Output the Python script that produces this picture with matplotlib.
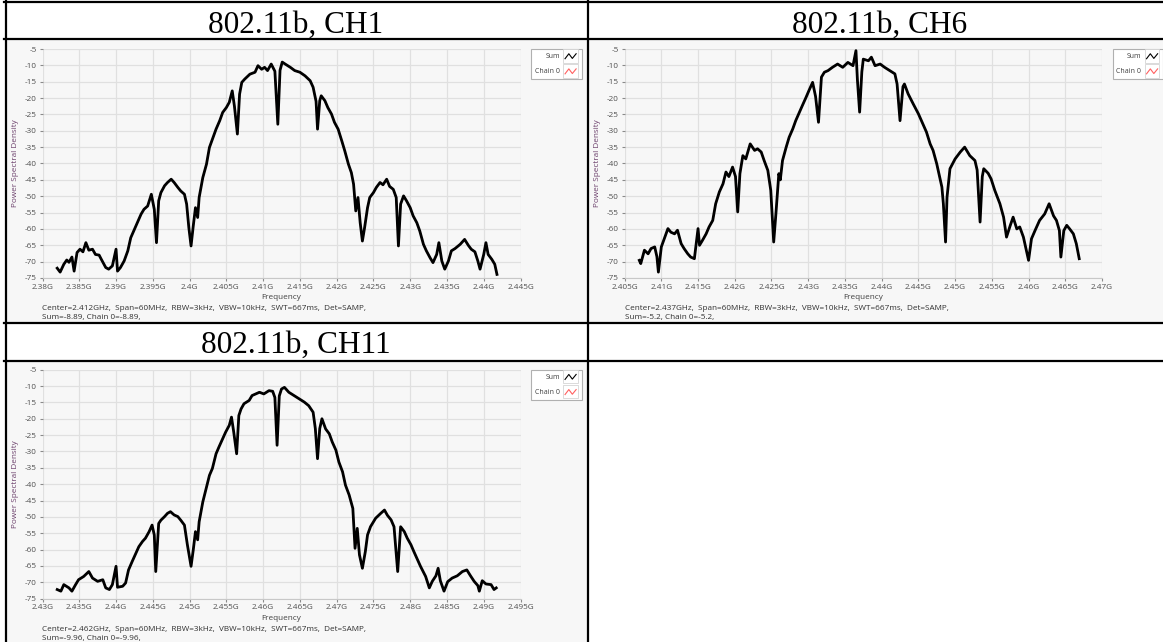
import numpy as np
import matplotlib.pyplot as plt
from matplotlib.lines import Line2D
from matplotlib.patches import Rectangle
from matplotlib.legend_handler import HandlerBase

# spectrum traces, frequency offset from channel centre (MHz) and level (dB)
ch1_off = [-30.0, -29.6, -29.1, -28.7, -28.4, -28.0, -27.7, -27.3, -26.9, -26.5,
           -26.1, -25.7, -25.2, -24.8, -24.3, -24.0, -23.4, -23.0, -22.5, -22.0,
           -21.8, -21.4, -20.9, -20.4, -20.0, -19.5, -19.1, -18.6, -18.2, -17.7,
           -17.2, -16.8, -16.5, -16.2, -15.9, -15.4, -15.0, -14.5, -14.1, -13.6,
           -13.2, -12.7, -12.4, -12.1, -11.8, -11.5, -11.2, -10.9, -10.7, -10.2,
           -9.7, -9.3, -8.8, -8.4, -7.9, -7.5, -7.0, -6.6, -6.2, -5.9,
           -5.5, -5.2, -4.9, -4.5, -3.8, -3.1, -2.7, -2.2, -1.8, -1.4,
           -0.9, -0.4, 0.0, 0.3, 0.6, 1.0, 1.7, 2.3, 3.0, 3.7,
           4.4, 4.8, 5.2, 5.4, 5.7, 5.9, 6.4, 6.8, 7.3, 7.7,
           8.2, 8.7, 9.1, 9.6, 10.0, 10.3, 10.6, 10.9, 11.2, 11.5,
           11.8, 12.2, 12.5, 13.0, 13.4, 13.9, 14.3, 14.8, 15.2, 15.7,
           16.1, 16.4, 16.7, 17.1, 17.5, 18.0, 18.4, 18.9, 19.3, 19.8,
           20.2, 20.7, 21.1, 21.6, 21.9, 22.3, 22.7, 23.2, 23.6, 24.1,
           24.8, 25.4, 25.9, 26.3, 26.8, 27.2, 27.5, 28.0, 28.3, 28.6,
           29.1, 29.5, 29.8]
ch1_lvl = [-72.0, -73.2, -70.8, -69.5, -70.2, -68.6, -72.9, -67.2, -66.2, -67.0,
           -64.2, -66.5, -66.2, -67.8, -68.0, -69.3, -71.8, -72.3, -71.3, -66.2,
           -72.9, -71.8, -69.8, -66.7, -62.7, -60.1, -58.1, -55.5, -54.0, -53.0,
           -49.4, -54.0, -64.2, -51.4, -48.9, -46.8, -45.8, -44.8, -45.8, -47.3,
           -48.4, -49.4, -52.4, -59.6, -65.2, -59.1, -53.5, -56.5, -50.4, -44.3,
           -40.2, -35.1, -32.0, -29.5, -26.9, -24.4, -22.9, -21.3, -17.8, -22.5,
           -31.0, -18.8, -15.2, -14.2, -12.7, -12.1, -10.1, -11.2, -10.6, -11.6,
           -9.6, -11.8, -28.0, -11.5, -9.0, -9.6, -10.6, -11.6, -12.1, -13.2,
           -14.7, -16.7, -21.0, -29.5, -20.8, -19.3, -20.8, -22.9, -24.9, -27.4,
           -29.5, -33.1, -36.1, -40.2, -42.8, -46.3, -54.5, -50.4, -58.1, -63.7,
           -59.6, -53.5, -50.4, -48.9, -47.3, -45.8, -46.5, -44.8, -47.0, -47.9,
           -50.4, -65.2, -52.4, -49.9, -51.4, -53.5, -56.0, -58.1, -60.6, -64.7,
           -66.7, -68.8, -70.3, -67.8, -64.2, -69.8, -72.3, -69.8, -66.7, -66.0,
           -64.7, -63.2, -65.0, -66.2, -67.0, -69.8, -72.3, -67.8, -64.2, -67.8,
           -69.3, -70.8, -73.9]

ch6_off = [-30.0, -29.8, -29.3, -28.8, -28.4, -27.9, -27.6, -27.4, -27.0, -26.6,
           -26.1, -25.7, -25.2, -24.8, -24.3, -23.9, -23.4, -23.0, -22.5, -22.0,
           -21.8, -21.4, -20.9, -20.5, -20.0, -19.6, -19.1, -18.6, -18.2, -17.8,
           -17.3, -16.9, -16.6, -16.3, -15.9, -15.5, -14.9, -14.3, -13.9, -13.4,
           -13.0, -12.5, -12.1, -11.7, -11.4, -11.0, -10.8, -10.5, -10.0, -9.6,
           -9.1, -8.7, -8.2, -7.8, -7.3, -6.9, -6.4, -6.0, -5.6, -5.2,
           -4.8, -4.3, -3.7, -3.0, -2.3, -1.6, -0.9, -0.5, -0.3, 0.0,
           0.3, 0.5, 1.2, 1.6, 2.1, 2.8, 3.4, 4.1, 4.8, 5.1,
           5.5, 5.9, 6.1, 6.6, 7.3, 8.0, 8.7, 9.1, 9.6, 10.0,
           10.5, 11.2, 11.4, 11.7, 11.9, 12.3, 13.0, 13.7, 14.3, 15.0,
           15.7, 16.0, 16.4, 16.7, 16.9, 17.5, 17.9, 18.4, 19.1, 19.6,
           20.0, 20.5, 20.9, 21.4, 21.8, 22.3, 22.7, 23.0, 23.4, 23.9,
           24.5, 25.2, 25.8, 26.4, 26.8, 27.2, 27.4, 27.8, 28.2, 28.6,
           29.1, 29.5, 29.9]
ch6_lvl = [-69.6, -70.6, -66.5, -67.6, -66.0, -65.5, -68.5, -73.2, -65.5, -63.0,
           -59.9, -61.0, -61.5, -60.4, -64.5, -66.0, -67.6, -68.6, -69.1, -59.9,
           -65.0, -63.5, -61.5, -59.4, -57.4, -52.3, -48.7, -46.2, -42.6, -44.0,
           -41.1, -44.0, -54.8, -43.1, -37.6, -38.6, -34.0, -36.0, -35.5, -36.5,
           -39.1, -42.1, -48.2, -64.0, -55.4, -43.1, -45.0, -39.1, -35.0, -32.0,
           -29.4, -26.9, -24.3, -22.3, -19.8, -17.7, -15.2, -19.5, -27.4, -13.6,
           -12.1, -11.6, -10.6, -9.6, -10.6, -9.1, -10.1, -5.5, -14.5, -24.3,
           -12.0, -8.1, -8.6, -7.5, -10.1, -9.6, -10.6, -11.6, -12.6, -15.7,
           -26.9, -16.5, -15.7, -18.7, -21.8, -24.8, -28.4, -30.4, -34.0, -36.0,
           -40.1, -47.2, -52.3, -64.0, -50.3, -41.6, -38.6, -36.5, -35.0, -37.6,
           -39.1, -42.0, -57.9, -44.0, -41.6, -43.0, -44.7, -48.2, -52.3, -56.4,
           -62.5, -59.0, -56.4, -60.0, -59.4, -62.5, -66.5, -69.6, -63.0, -60.4,
           -57.4, -55.4, -52.3, -56.0, -57.4, -60.5, -68.6, -60.5, -58.9, -60.0,
           -61.5, -64.5, -69.1]

ch11_off = [-30.0, -29.5, -29.1, -28.4, -28.0, -27.5, -27.1, -26.4, -25.7, -25.2,
            -24.5, -23.8, -23.4, -22.9, -22.5, -22.0, -21.8, -21.1, -20.7, -20.3,
            -19.8, -19.3, -18.9, -18.4, -18.0, -17.5, -17.1, -16.8, -16.6, -16.2,
            -15.9, -15.4, -15.0, -14.6, -14.1, -13.6, -13.2, -12.7, -12.3, -11.8,
            -11.5, -11.2, -10.9, -10.7, -10.2, -9.8, -9.3, -8.9, -8.4, -8.0,
            -7.5, -7.1, -6.6, -6.3, -6.0, -5.6, -5.3, -5.0, -4.6, -3.9,
            -3.5, -3.0, -2.5, -1.9, -1.2, -0.7, -0.4, -0.1, 0.2, 0.5,
            0.9, 1.5, 2.2, 2.9, 3.6, 4.2, 4.8, 5.1, 5.4, 5.7,
            6.0, 6.5, 7.0, 7.4, 7.9, 8.3, 8.8, 9.2, 9.7, 10.2,
            10.5, 10.8, 11.1, 11.5, 11.9, 12.2, 12.6, 13.3, 14.0, 14.5,
            14.9, 15.4, 15.8, 16.3, 16.7, 17.2, 17.6, 18.1, 18.5, 19.0,
            19.4, 20.1, 20.6, 21.0, 21.5, 21.8, 22.1, 22.6, 23.1, 23.7,
            24.4, 25.1, 25.7, 26.2, 26.7, 27.2, 27.4, 27.8, 28.3, 29.0,
            29.4, 29.7]
ch11_lvl = [-72.2, -72.7, -70.7, -71.7, -72.7, -70.7, -69.2, -68.2, -66.7, -68.7,
            -69.7, -69.2, -71.7, -72.2, -70.7, -65.1, -71.5, -71.2, -70.2, -66.2,
            -63.6, -61.1, -59.1, -57.5, -56.5, -54.5, -52.5, -55.5, -66.7, -52.0,
            -51.0, -49.9, -48.9, -48.4, -49.4, -49.9, -51.0, -52.5, -58.5, -65.1,
            -60.1, -54.5, -57.0, -51.5, -45.4, -41.8, -37.3, -35.2, -30.7, -28.6,
            -26.1, -24.1, -22.0, -19.5, -24.0, -30.7, -19.0, -17.0, -15.4, -14.4,
            -12.9, -12.4, -11.9, -12.4, -11.4, -11.6, -13.5, -28.1, -13.0, -10.9,
            -10.4, -11.9, -12.9, -13.9, -14.9, -16.0, -18.0, -23.0, -32.2, -23.0,
            -20.0, -23.1, -24.6, -27.1, -29.6, -33.2, -36.2, -40.3, -43.3, -47.4,
            -59.6, -53.5, -61.6, -65.7, -60.6, -55.5, -53.0, -50.4, -48.9, -47.9,
            -49.5, -50.9, -53.0, -66.7, -53.0, -54.5, -56.5, -58.5, -60.6, -63.1,
            -65.1, -68.2, -71.7, -69.7, -68.0, -65.7, -69.5, -72.7, -69.8, -68.7,
            -68.0, -66.7, -66.2, -68.0, -69.7, -71.0, -72.7, -69.5, -70.5, -70.7,
            -72.2, -71.7]

titles = ['802.11b, CH1', '802.11b, CH6', '802.11b, CH11']
centers = [2.412, 2.437, 2.462]
xlims = [(2.38, 2.445), (2.405, 2.47), (2.43, 2.495)]
info = [('Center=2.412GHz,  Span=60MHz,  RBW=3kHz,  VBW=10kHz,  SWT=667ms,  Det=SAMP,',
         'Sum=-8.89, Chain 0=-8.89,'),
        ('Center=2.437GHz,  Span=60MHz,  RBW=3kHz,  VBW=10kHz,  SWT=667ms,  Det=SAMP,',
         'Sum=-5.2, Chain 0=-5.2,'),
        ('Center=2.462GHz,  Span=60MHz,  RBW=3kHz,  VBW=10kHz,  SWT=667ms,  Det=SAMP,',
         'Sum=-9.96, Chain 0=-9.96,')]

W, H = 1163, 642
fig = plt.figure(figsize=(W / 100, H / 100), dpi=100)
fig.patch.set_facecolor('white')


def fx(x):
    return x / W


def fy(y):
    return 1 - y / H


class BoxedZigzag(HandlerBase):
    # legend key drawn as a small boxed zigzag, like the analyser software
    def create_artists(self, legend, orig_handle, xdescent, ydescent, width, height,
                       fontsize, trans):
        box = Rectangle((-xdescent, -ydescent - 2.5), width, height + 5, facecolor='white',
                        edgecolor='#d4d4d4', lw=0.6, transform=trans)
        xs = [-xdescent + width * f for f in (0.12, 0.38, 0.62, 0.88)]
        ys = [-ydescent + height * f for f in (0.05, 0.85, 0.1, 0.85)]
        zz = Line2D(xs, ys, color=orig_handle.get_color(), lw=0.8, transform=trans)
        return [box, zz]


# grey cell backgrounds of the three screenshots
for x0, y0, x1, y1 in [(7, 39, 587, 322), (589, 39, 1163, 322), (7, 362, 587, 642)]:
    fig.patches.append(Rectangle((fx(x0), fy(y1)), fx(x1 - x0), (y1 - y0) / H,
                                 transform=fig.transFigure, facecolor='#f7f7f7',
                                 edgecolor='none', zorder=-5))

# table borders
for xs, ys in [((4, 1163), (2, 2)), ((4, 1163), (38.5, 38.5)), ((4, 1163), (323, 323)),
               ((4, 1163), (361, 361)), ((6, 6), (1, 642)), ((588, 588), (1, 642))]:
    fig.lines.append(Line2D([fx(xs[0]), fx(xs[1])], [fy(ys[0]), fy(ys[1])],
                            transform=fig.transFigure, color='black', lw=1.6, zorder=5))

# cell titles
for (tx, ty), t in zip([(296, 33), (880, 33), (296, 353)], titles):
    fig.text(fx(tx), fy(ty), t, ha='center', va='baseline',
             family='Liberation Serif', fontsize=22.5, color='black')

axes_px = [(42.5, 49, 520.5, 278), (624.6, 49, 1102, 278), (42.5, 369.7, 520.5, 598.7)]
traces = [(ch1_off, ch1_lvl), (ch6_off, ch6_lvl), (ch11_off, ch11_lvl)]
small = dict(family='Open Sans', fontsize=5.9)

for i, (x0, y0, x1, y1) in enumerate(axes_px):
    ax = fig.add_axes([fx(x0), fy(y1), (x1 - x0) / W, (y1 - y0) / H])
    ax.set_zorder(1)
    ax.set_facecolor('#f7f7f7')
    freq = centers[i] + np.array(traces[i][0]) / 1000.0
    lvl = np.array(traces[i][1])
    ax.plot(freq, lvl, color='#ff6060', lw=1.0, label='Chain 0')
    ax.plot(freq, lvl, color='black', lw=2.0, label='Sum')
    ax.set_xlim(*xlims[i])
    ax.set_ylim(-75, -5)
    xt = np.round(np.arange(xlims[i][0], xlims[i][1] + 0.0001, 0.005), 3)
    ax.set_xticks(xt)
    ax.set_xticklabels(['%gG' % v for v in xt], **small)
    yt = np.arange(-75, 0, 5)
    ax.set_yticks(yt)
    ax.set_yticklabels(['%d' % v for v in yt], **small)
    ax.tick_params(length=2.5, width=0.8, color='#8a8a8a', labelcolor='#505050', pad=1.5)
    ax.grid(True, color='#e0e0e0', lw=0.9)
    ax.set_axisbelow(True)
    for s in ['top', 'right', 'left']:
        ax.spines[s].set_visible(False)
    ax.spines['bottom'].set_color('#c8c8c8')

    # axis names and measurement info
    fig.text(fx(x0 - 27), fy((y0 + y1) / 2), 'Power Spectral Density', rotation=90,
             ha='center', va='center', color='#6b3f6b', **small)
    fig.text(fx((x0 + x1) / 2), fy(y1 + 20), 'Frequency', ha='center', va='center',
             color='#404040', **small)
    fig.text(fx(x0), fy(y1 + 31), info[i][0], ha='left', va='center', color='#303030', **small)
    fig.text(fx(x0), fy(y1 + 40), info[i][1], ha='left', va='center', color='#303030', **small)

    h, l = ax.get_legend_handles_labels()
    leg = ax.legend(h[::-1], l[::-1], loc='upper left',
                    bbox_to_anchor=(fx(x1 + 10.5), fy(y0)), bbox_transform=fig.transFigure,
                    markerfirst=False, prop={'family': 'Open Sans', 'size': 5},
                    handler_map={Line2D: BoxedZigzag()},
                    frameon=True, fancybox=False, edgecolor='#b0b0b0', facecolor='white',
                    framealpha=1, borderpad=0.55, handlelength=2.1, handleheight=1.0,
                    labelspacing=1.1, handletextpad=0.5, borderaxespad=0)
    leg.get_frame().set_linewidth(0.8)
    for t in leg.get_texts():
        t.set_color('#404040')

fig.savefig('out.png', dpi=100)
